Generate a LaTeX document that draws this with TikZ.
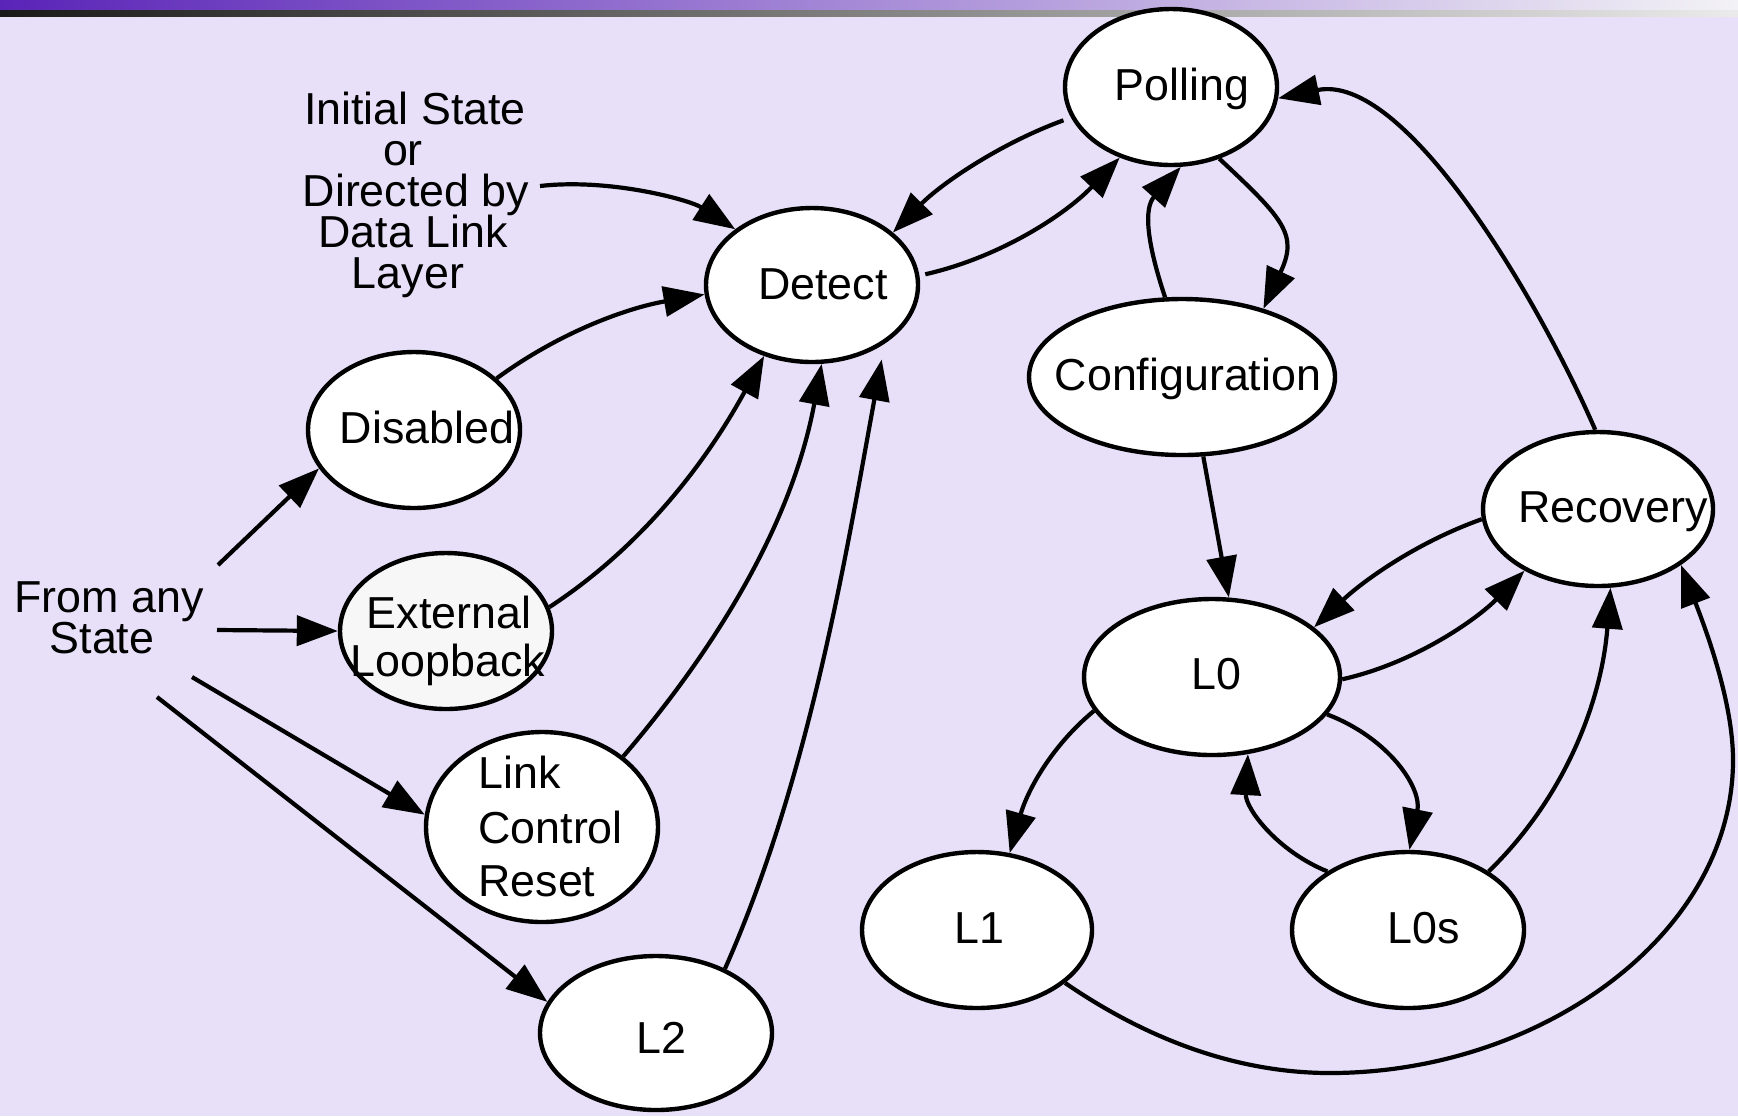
\documentclass[tikz,border=0pt]{standalone}
\usepackage{fontspec}
\setmainfont{Liberation Sans}
\usetikzlibrary{shapes.geometric,arrows.meta}
\definecolor{bgcol}{HTML}{E7E0F8}
\definecolor{barpurple}{HTML}{5A24B8}
\definecolor{barlight}{HTML}{F3F2F6}
\definecolor{loopfill}{HTML}{F7F7F7}
\begin{document}
\begin{tikzpicture}[x=0.5pt,y=-0.5pt,
  state/.style={ellipse, draw, line width=2.2pt, fill=white, inner sep=0pt},
  lbl/.style={anchor=base, inner sep=0pt, font=\fontsize{22.4}{22.4}\selectfont},
  lbll/.style={lbl, anchor=base west},
  edge/.style={line width=2.1pt, -{Triangle[length=20.5pt,width=15pt]}}]

% background and title bars
\fill[bgcol] (0,0) rectangle (1738,1116);
\useasboundingbox (0,0) rectangle (1738,1116);
\shade[left color=barpurple, right color=barlight] (0,0) rectangle (1738,10);
\shade[left color=black!90, right color=black!8] (0,10) rectangle (1738,16);

% states
\node[state, minimum width=106pt, minimum height=78pt] (polling)  at (1171,87)  {};
\node[state, minimum width=106pt, minimum height=77pt] (detect)   at (812,285)  {};
\node[state, minimum width=106pt, minimum height=78pt] (disabled) at (414,430)  {};
\node[state, minimum width=106pt, minimum height=78pt, fill=loopfill] (extloop) at (446,631) {};
\node[state, minimum width=116pt, minimum height=95pt] (lcr)      at (542,827)  {};
\node[state, minimum width=116pt, minimum height=77pt] (l2)       at (656,1033) {};
\node[state, minimum width=153pt, minimum height=78pt] (config)   at (1182,377) {};
\node[state, minimum width=115pt, minimum height=77pt] (recovery) at (1598,509) {};
\node[state, minimum width=128pt, minimum height=78pt] (l0)       at (1212,677) {};
\node[state, minimum width=115pt, minimum height=78pt] (l1)       at (977,930)  {};
\node[state, minimum width=116pt, minimum height=78pt] (l0s)      at (1408,930) {};

% state names
\node[lbl] (tpolling)  at (1182,100) {Polling};
\node[lbl] (tdetect)   at (823,299)  {Detect};
\node[lbl] (tconfig)   at (1188,390) {Configuration};
\node[lbl] (trecovery) at (1613,522) {Recovery};
\node[lbl] (tl0)       at (1216,689) {L0};
\node[lbl] (tl1)       at (979,943)  {L1};
\node[lbl] (tl0s)      at (1424,943) {L0s};
\node[lbl] (tl2)       at (661,1053) {L2};
\node[lbl] (tdisabled) at (427,443)  {Disabled};
\node[lbl] (text1)     at (449,628)  {External};
\node[lbl] (text2)     at (448,676)  {Loopback};
\node[lbll] (tlcr1)    at (478,788)  {Link};
\node[lbll] (tlcr2)    at (478,843)  {Control};
\node[lbll] (tlcr3)    at (478,896)  {Reset};

% free labels
\node[lbl] (from1) at (109,612) {From any};
\node[lbl] (from2) at (102,653) {State};
\node[lbl] (init1) at (415,124) {Initial State};
\node[lbl] (init2) at (403,165) {or};
\node[lbl] (init3) at (416,206) {Directed by};
\node[lbl] (init4) at (413,247) {Data Link};
\node[lbl] (init5) at (408,288) {Layer};

\coordinate (initout) at (540,186);
\coordinate (fa1) at (218,565);
\coordinate (fa2) at (217,630);
\coordinate (fa3) at (192,677);
\coordinate (fa4) at (157,697);

% transitions into Detect
\draw[edge] (initout) .. controls (610,178) and (690,200) .. (detect.144);
\draw[edge] (disabled.32) .. controls (560,332) and (627,308) .. (detect.185);
\draw[edge] (extloop.13) .. controls (646,544) and (709,457) .. (detect.236);
\draw[edge] (lcr.41) .. controls (722,641) and (793,518) .. (detect.277);
\draw[edge, shorten >=8pt] (l2.43) .. controls (810,777) and (847,549) .. (detect.-39);

% Detect / Polling / Configuration
\draw[edge, shorten <=3pt] (detect.5) .. controls (1001,257) and (1066,214) .. (polling.234);
\draw[edge, shorten <=4pt] (polling.197) .. controls (1001,143) and (942,183) .. (detect.33.5);
\draw[edge] (config.102) .. controls (1146,240) and (1144,208) .. (polling.277);
\draw[edge] (polling.304) .. controls (1285,220) and (1298,235) .. (config.40);
\draw[edge] (config.285) -- (l0.78);

% Recovery, L0 and low-power states
\draw[edge] (recovery.92) .. controls (1537,296) and (1404,72) .. (polling.-6);
\draw[edge] (recovery.185) .. controls (1415,543) and (1362,582) .. (l0.26);
\draw[edge] (l0.-1) .. controls (1415,663) and (1477,619) .. (recovery.220);
\draw[edge] (l0.196) .. controls (1048,749) and (1026,795) .. (l1.67);
\draw[edge] (l0.-18) .. controls (1389,738) and (1422,788) .. (l0s.89);
\draw[edge] (l0s.144) .. controls (1277,851) and (1245,808) .. (l0.-65);
\draw[edge] (l0s.36) .. controls (1568,794) and (1602,697) .. (recovery.-81);
\draw[edge] (l1.-31) .. controls (1151,1042) and (1241,1073) .. (1330,1073)
  .. controls (1540,1073) and (1733,935) .. (1733,760)
  .. controls (1733,700) and (1704,625) .. (recovery.-34);

% from any state
\draw[edge] (fa1) -- (disabled.202);
\draw[edge] (fa2) -- (extloop.west);
\draw[edge] (fa3) -- (lcr.174);
\draw[edge] (fa4) -- (l2.164.5);
\end{tikzpicture}
\end{document}
